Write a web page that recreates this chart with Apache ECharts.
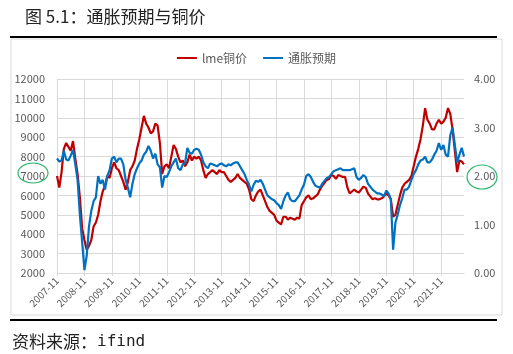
<!DOCTYPE html>
<html>
<head>
<meta charset="utf-8">
<script src="https://cdn.jsdelivr.net/npm/echarts@6/dist/echarts.min.js"></script>
<style>
  html, body { margin: 0; padding: 0; background: #fff; }
  #copper-cpi { width: 513px; height: 354px; }
</style>
</head>
<body>
<div id="copper-cpi"></div>
<script>
// 月度数据，2007-11 起
const startYear = 2007;
const startMonth = 11;
const yearTicks = ['2007-11', '2008-11', '2009-11', '2010-11', '2011-11', '2012-11', '2013-11',
  '2014-11', '2015-11', '2016-11', '2017-11', '2018-11', '2019-11', '2020-11', '2021-11'];

// lme铜价（左轴）
const lmeCopper = [
  7000, 6400, 7200, 8400, 8700, 8500, 8300, 8800, 7900, 7100,
  5900, 4300, 3700, 3200, 3400, 3700, 4400, 4600, 5000, 5700,
  6200, 6500, 7000, 6900, 7400, 7700, 7400, 7300, 7000, 6700,
  6300, 6700, 7300, 7500, 7800, 8400, 8900, 9500, 10100, 9700,
  9500, 9200, 9300, 9700, 9600, 8700, 7100, 7500, 7600, 7400,
  8000, 8600, 8400, 8000, 7700, 7800, 7500, 7700, 8100, 7800,
  8000, 7900, 8000, 7800, 7300, 6900, 7100, 7200, 7300, 7200,
  7100, 7300, 7200, 7200, 7000, 6800, 6700, 6800, 6900, 7100,
  6900, 6800, 6700, 6600, 6300, 5800, 5700, 6000, 6200, 6300,
  6000, 5700, 5400, 5200, 5100, 5000, 4700, 4600, 4500, 4900,
  4900, 4750, 4850, 4800, 4750, 4850, 4800, 5500, 5700, 5900,
  6000, 5800, 5850, 5950, 6050, 6300, 6500, 6650, 6800, 6850,
  7050, 7000, 6850, 7050, 7000, 6950, 6950, 6400, 6100, 6200,
  6300, 6200, 6150, 6300, 6450, 6400, 6100, 5950, 5800, 5850,
  5800, 5800, 5850, 5950, 6100, 6000, 5800, 4900, 5000, 5500,
  6000, 6400, 6600, 6700, 6800, 7000, 7500, 8000, 8400, 8900,
  9600, 10500, 9900, 9700, 9400, 9400, 9700, 9900, 9700, 9800,
  10000, 10500, 10200, 9400, 8300, 7200, 7800, 7750, 7600
];

// 通胀预期（右轴）
const inflationExp = [
  2.36, 2.30, 2.32, 2.52, 2.34, 2.32, 2.42, 2.54, 2.24, 1.92,
  1.20, 0.64, 0.06, 0.36, 0.96, 1.28, 1.48, 1.56, 2.00, 1.84,
  1.92, 1.72, 2.00, 2.12, 2.36, 2.40, 2.28, 2.36, 2.36, 2.24,
  1.92, 1.76, 1.56, 1.84, 2.04, 2.16, 2.26, 2.32, 2.44, 2.50,
  2.62, 2.52, 2.36, 2.46, 2.24, 2.18, 1.76, 2.00, 1.98, 2.08,
  2.20, 2.28, 2.36, 2.16, 2.12, 2.24, 2.26, 2.58, 2.48, 2.46,
  2.54, 2.56, 2.54, 2.44, 2.28, 2.20, 2.16, 2.26, 2.24, 2.22,
  2.20, 2.24, 2.26, 2.22, 2.20, 2.24, 2.22, 2.26, 2.28, 2.28,
  2.20, 2.12, 2.04, 1.92, 1.82, 1.68, 1.82, 1.90, 1.88, 1.92,
  1.84, 1.72, 1.60, 1.56, 1.52, 1.50, 1.44, 1.40, 1.32, 1.48,
  1.60, 1.66, 1.52, 1.48, 1.48, 1.54, 1.60, 1.72, 1.82, 2.00,
  2.04, 1.98, 1.88, 1.80, 1.78, 1.76, 1.84, 1.90, 1.96, 1.98,
  2.04, 2.10, 2.12, 2.14, 2.16, 2.12, 2.12, 2.12, 2.12, 2.14,
  2.16, 1.98, 1.92, 1.96, 2.02, 1.98, 1.84, 1.78, 1.72, 1.68,
  1.64, 1.64, 1.62, 1.58, 1.70, 1.64, 1.52, 0.48, 1.04, 1.20,
  1.40, 1.54, 1.72, 1.72, 1.78, 1.92, 2.04, 2.12, 2.24, 2.32,
  2.34, 2.40, 2.28, 2.28, 2.34, 2.44, 2.52, 2.68, 2.54, 2.64,
  2.44, 2.40, 2.84, 3.00, 2.64, 2.28, 2.44, 2.58, 2.40
];

const months = [];
for (let i = 0; i < lmeCopper.length; i++) {
  const t = (startMonth - 1) + i;
  const y = startYear + Math.floor(t / 12);
  const m = (t % 12) + 1;
  months.push(y + '-' + (m < 10 ? '0' + m : m));
}
const showTick = (idx, val) => yearTicks.indexOf(val) > -1;

const myChart = echarts.init(document.getElementById('copper-cpi'));
const labelColor = '#595959';
const gridColor = '#d9d9d9';
const options = {
  animation: false,
  textStyle: { fontFamily: 'Noto Sans CJK SC, sans-serif' },
  title: {
    text: '图 5.1：通胀预期与铜价',
    left: 20,
    top: 3,
    textStyle: { fontSize: 17, fontWeight: 'normal', color: '#222' },
  },
  legend: {
    top: 47,
    left: 'center',
    itemWidth: 20,
    itemHeight: 2,
    itemGap: 16,
    icon: 'rect',
    textStyle: { color: labelColor, fontSize: 12 },
    data: ['lme铜价', '通胀预期'],
  },
  grid: { left: 57, right: 49, top: 79, bottom: 81 },
  xAxis: {
    type: 'category',
    data: months,
    boundaryGap: false,
    axisLine: { lineStyle: { color: gridColor } },
    axisTick: { interval: showTick, length: 3, lineStyle: { color: gridColor } },
    axisLabel: { interval: showTick, rotate: 45, color: labelColor, fontSize: 10, margin: 6 },
    splitLine: { show: true, interval: showTick, lineStyle: { color: gridColor } },
  },
  yAxis: [
    {
      type: 'value',
      min: 2000,
      max: 12000,
      interval: 1000,
      axisLine: { show: false },
      axisTick: { show: false },
      axisLabel: { color: labelColor, fontSize: 11, margin: 12, formatter: (v) => String(v) },
      splitLine: { lineStyle: { color: gridColor } },
    },
    {
      type: 'value',
      min: 0,
      max: 4,
      interval: 1,
      axisLine: { show: false },
      axisTick: { show: false },
      axisLabel: { color: labelColor, fontSize: 11, margin: 10, formatter: (v) => v.toFixed(2) },
      splitLine: { show: false },
    },
  ],
  series: [
    {
      name: 'lme铜价',
      type: 'line',
      data: lmeCopper,
      yAxisIndex: 0,
      showSymbol: false,
      lineStyle: { color: '#c00000', width: 2.2 },
      itemStyle: { color: '#c00000' },
    },
    {
      name: '通胀预期',
      type: 'line',
      data: inflationExp,
      yAxisIndex: 1,
      showSymbol: false,
      lineStyle: { color: '#0070c0', width: 2.2 },
      itemStyle: { color: '#0070c0' },
    },
  ],
  graphic: [
    { type: 'line', shape: { x1: 10, y1: 37, x2: 497, y2: 37 }, style: { stroke: '#000', lineWidth: 2 } },
    { type: 'rect', shape: { x: 11, y: 39, width: 491, height: 276 }, style: { fill: 'none', stroke: '#d9d9d9', lineWidth: 1 } },
    { type: 'line', shape: { x1: 10, y1: 320, x2: 497, y2: 320 }, style: { stroke: '#000', lineWidth: 2 } },
    { type: 'ellipse', shape: { cx: 33, cy: 173, rx: 15, ry: 10 }, style: { fill: 'none', stroke: '#2db46b', lineWidth: 1.2 } },
    { type: 'ellipse', shape: { cx: 482, cy: 177, rx: 15, ry: 12 }, style: { fill: 'none', stroke: '#2db46b', lineWidth: 1.2 } },
    {
      type: 'text', left: 12, top: 333,
      style: {
        text: '{a|资料来源：}{b|ifind}',
        rich: {
          a: { fontSize: 17, fill: '#222', fontFamily: 'Noto Sans CJK SC, sans-serif' },
          b: { fontSize: 16, fill: '#222', fontFamily: 'DejaVu Sans Mono, monospace' },
        },
      },
    },
  ],
};
myChart.setOption(options);
</script>
</body>
</html>
